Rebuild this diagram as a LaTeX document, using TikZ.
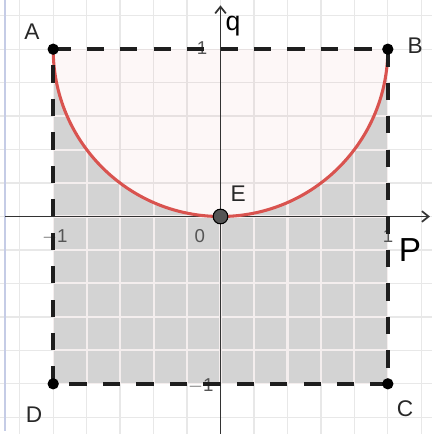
\documentclass[tikz,border=0pt]{standalone}
\usepackage{fontspec}
\setmainfont{Liberation Sans}
\usetikzlibrary{arrows.meta}
\definecolor{gridc}{HTML}{E8E8E8}
\definecolor{gridw}{HTML}{F4EEEE}
\definecolor{grayfill}{HTML}{D3D3D3}
\definecolor{curvered}{HTML}{D9534F}
\definecolor{pinkbase}{HTML}{E65050}
\definecolor{borderblue}{HTML}{C5CCE6}
\definecolor{ticklab}{HTML}{555555}
\definecolor{axisc}{HTML}{333333}
\definecolor{edot}{HTML}{555555}
\tikzset{
  gridline/.style={gridc, line width=1.0pt},
  gridlight/.style={gridw, line width=1.6pt},
  sqline/.style={draw={rgb,255:red,30;green,30;blue,30}, line width=2.6pt, dash pattern=on 13pt off 12.1pt},
  axisline/.style={axisc, line width=1.3pt, -{Straight Barb[length=5pt,width=8pt]}},
  ptdot/.style={circle, fill=black, inner sep=0pt, minimum size=8.5pt},
  edotstyle/.style={circle, fill=edot, draw=black, line width=0.8pt, inner sep=0pt, minimum size=11pt},
  ptlabel/.style={text={rgb,255:red,40;green,40;blue,40}, font=\fontsize{17}{19}\selectfont, inner sep=0pt},
  ticklabel/.style={text=ticklab, font=\fontsize{14}{16}\selectfont, inner sep=0pt},
  handlabel/.style={text=black, font=\fontsize{20}{22}\selectfont, inner sep=0pt}
}
\begin{document}
\begin{tikzpicture}[x=125.5pt,y=125.5pt]
\useasboundingbox (-1.318,-1.300) rectangle (1.264,1.294);
\fill[white] (-1.318,-1.300) rectangle (1.264,1.294);
% grid
\begin{scope}
  \clip (-1.318,-1.300) rectangle (1.264,1.294);
  \foreach \k in {-6,...,6} {
    \draw[gridline] (\k*0.2,-1.4) -- (\k*0.2,1.4);
    \draw[gridline] (-1.4,\k*0.2) -- (1.4,\k*0.2);
  }
\end{scope}
% left border
\draw[borderblue, line width=0.9pt] (-1.288,1.294) -- (-1.288,-1.285);
% points
\coordinate (A) at (-1,1);
\coordinate (B) at (1,1);
\coordinate (C) at (1,-1);
\coordinate (D) at (-1,-1);
\coordinate (E) at (0,0);
% gray region
\fill[grayfill] (D) -- (A) arc[start angle=180, end angle=360, radius=1] -- (C) -- cycle;
\begin{scope}
  \clip (D) -- (A) arc[start angle=180, end angle=360, radius=1] -- (C) -- cycle;
  \foreach \k in {-6,...,6} {
    \draw[gridlight] (\k*0.2,-1.4) -- (\k*0.2,1.4);
    \draw[gridlight] (-1.4,\k*0.2) -- (1.4,\k*0.2);
  }
\end{scope}
% pink region
\fill[pinkbase, fill opacity=0.045] (A) arc[start angle=180, end angle=360, radius=1] -- cycle;
% axes
\coordinate (xl) at (-1.288,0);
\coordinate (xr) at (1.252,0);
\coordinate (yb) at (0,-1.300);
\coordinate (yt) at (0,1.262);
\draw[axisline] (xl) -- (xr);
\draw[axisline] (yb) -- (yt);
% tick labels
\node[ticklabel] (t0) at (-0.123,-0.117) {0};
\node[ticklabel] (tl) at (-0.990,-0.120) {$-$1};
\node[ticklabel] (tr) at (1.001,-0.117) {1};
\node[ticklabel] (tt) at (-0.110,1.007) {1};
\node[ticklabel] (tb) at (-0.118,-1.013) {$-$1};
% curve
\draw[curvered, line width=2.3pt] (A) arc[start angle=180, end angle=360, radius=1];
% dashed square
\draw[sqline] (A) -- (B) -- (C) -- (D) -- cycle;
% dots
\node[ptdot] (dA) at (A) {};
\node[ptdot] (dB) at (B) {};
\node[ptdot] (dC) at (C) {};
\node[ptdot] (dD) at (D) {};
\node[edotstyle] (dE) at (E) {};
% point labels
\node[ptlabel] (lA) at (-1.127,1.103) {A};
\node[ptlabel] (lB) at (1.163,1.019) {B};
\node[ptlabel] (lC) at (1.103,-1.151) {C};
\node[ptlabel] (lD) at (-1.115,-1.187) {D};
\node[ptlabel] (lE) at (0.105,0.134) {E};
% hand labels
\node[handlabel] (lq) at (0.075,1.140) {q};
\node[handlabel, font=\fontsize{25}{27}\selectfont] (lP) at (1.133,-0.200) {P};
\end{tikzpicture}
\end{document}
